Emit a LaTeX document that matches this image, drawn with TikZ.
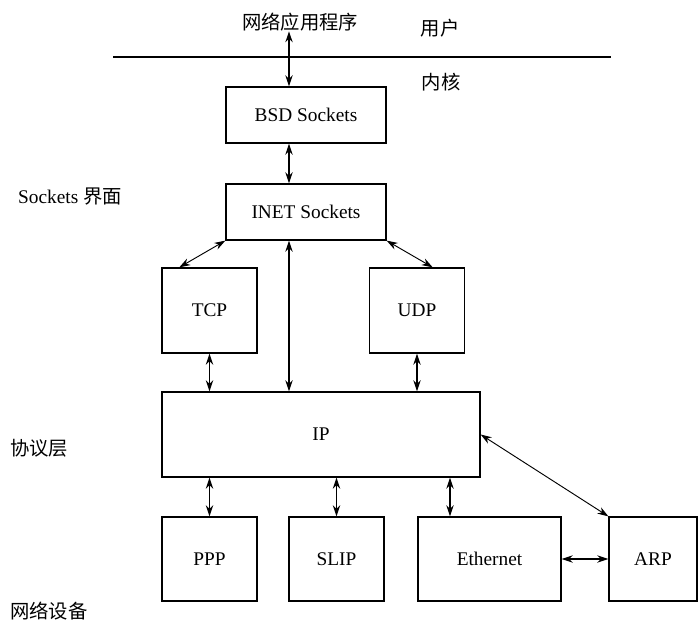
\documentclass[tikz,border=0pt]{standalone}
\usepackage{fontspec}
\setmainfont{Liberation Serif}
\newfontfamily\cjk{Noto Sans CJK SC}
\usetikzlibrary{arrows.meta}

\tikzset{
    box/.style={shape=rectangle,draw=black,line width=1.1pt,inner sep=0pt,
        font=\fontsize{16.5}{20}\selectfont},
    tag/.style={inner sep=0pt,font=\fontsize{16.5}{20}\selectfont},
    link/.style={{Stealth[length=3.3mm,width=2.2mm]}-{Stealth[length=3.3mm,width=2.2mm]},line width=1.3pt},
    thinlink/.style={{Stealth[length=3.3mm,width=2.2mm]}-{Stealth[length=3.3mm,width=2.2mm]},line width=0.8pt},
}

\begin{document}
\begin{tikzpicture}[x=0.03cm,y=-0.03cm]
    \useasboundingbox (0,0) rectangle (698,623);

    % user / kernel split
    \coordinate (SepL) at (113,57);
    \coordinate (SepR) at (611,57);
    \draw[line width=1.1pt] (SepL) -- (SepR);
    \node[tag] (App) at (300,22) {\cjk 网络应用程序};
    \node[tag] (User) at (440,28) {\cjk 用户};
    \node[tag] (Kernel) at (441,82) {\cjk 内核};

    % layer names
    \node[tag,anchor=west] (SockLayer) at (18,197) {Sockets {\cjk 界面}};
    \node[tag,anchor=west] (ProtoLayer) at (10,448) {\cjk 协议层};
    \node[tag,anchor=west] (DevLayer) at (10,611) {\cjk 网络设备};

    % boxes
    \node[box,minimum width=4.8cm,minimum height=1.68cm] (BSD) at (306,115) {BSD Sockets};
    \node[box,minimum width=4.8cm,minimum height=1.68cm] (INET) at (306,212) {INET Sockets};
    \node[box,minimum width=2.85cm,minimum height=2.55cm] (TCP) at (209.5,310.5) {TCP};
    \node[box,minimum width=2.85cm,minimum height=2.55cm] (UDP) at (417,310.5) {UDP};
    \node[box,minimum width=9.54cm,minimum height=2.55cm] (IP) at (321,434.5) {IP};
    \node[box,minimum width=2.85cm,minimum height=2.52cm] (PPP) at (209.5,559) {PPP};
    \node[box,minimum width=2.85cm,minimum height=2.52cm] (SLIP) at (336.5,559) {SLIP};
    \node[box,minimum width=4.29cm,minimum height=2.52cm] (Ethernet) at (489.5,559) {Ethernet};
    \node[box,minimum width=2.64cm,minimum height=2.52cm] (ARP) at (653,559) {ARP};

    % connectors
    \coordinate (Axis) at (289,0);
    \coordinate (EthAxis) at (450,0);
    \draw[link] (App.south -| Axis) -- (BSD.north -| Axis);
    \draw[link] (BSD.south -| Axis) -- (INET.north -| Axis);
    \draw[link] (INET.south -| Axis) -- (IP.north -| Axis);
    \draw[thinlink] (TCP.125) -- (INET.south west);
    \draw[thinlink] (INET.south east) -- (UDP.70);
    \draw[link] (TCP.south) -- (TCP.south |- IP.north);
    \draw[link] (UDP.south) -- (UDP.south |- IP.north);
    \draw[link] (PPP.north |- IP.south) -- (PPP.north);
    \draw[link] (SLIP.north |- IP.south) -- (SLIP.north);
    \draw[link] (IP.south -| EthAxis) -- (Ethernet.north -| EthAxis);
    \draw[thinlink] (IP.east) -- (ARP.north west);
    \draw[link] (Ethernet.east) -- (ARP.west);
\end{tikzpicture}
\end{document}
